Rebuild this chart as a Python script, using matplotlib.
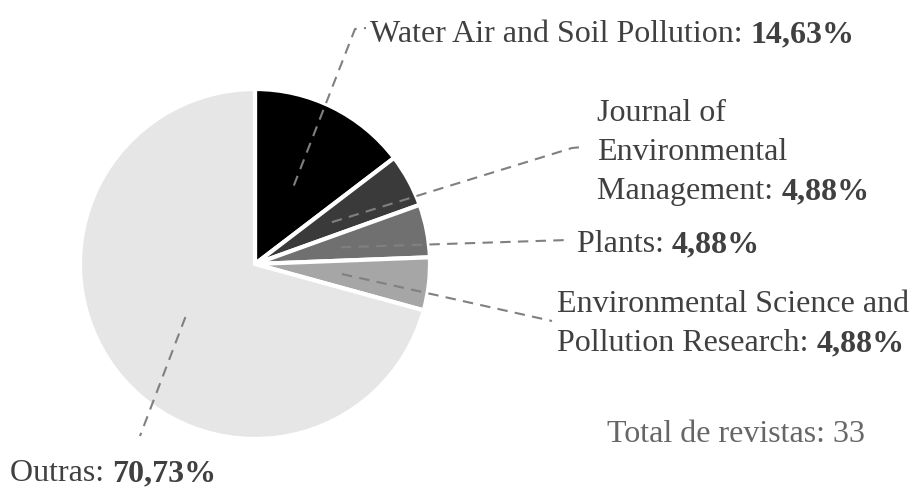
import matplotlib
matplotlib.use('Agg')
import matplotlib.pyplot as plt
import numpy as np

# data
journals = ['Water Air and Soil Pollution', 'Journal of Environmental Management',
            'Plants', 'Environmental Science and Pollution Research', 'Outras']
shares = [14.63, 4.88, 4.88, 4.88, 70.73]
colors = ['#000000', '#3a3a3a', '#707070', '#a6a6a6', '#e6e6e6']
label_lines = [['Water Air and Soil Pollution: '],
               ['Journal of', 'Environmental', 'Management: '],
               ['Plants: '],
               ['Environmental Science and', 'Pollution Research: '],
               ['Outras: ']]
total_text = 'Total de revistas: 33'

W, H = 913, 489
plt.rcParams['font.family'] = ['Liberation Serif', 'DejaVu Serif']
fig = plt.figure(figsize=(W / 100, H / 100), dpi=100)
ax = fig.add_axes([0, 0, 1, 1])

cx, cy, R = 255, H - 265, 175
wedges, _ = ax.pie(shares, colors=colors, startangle=90, counterclock=False,
                   center=(cx, cy), radius=R, frame=True,
                   wedgeprops=dict(edgecolor='white', linewidth=3))
ax.set_xlim(0, W)
ax.set_ylim(0, H)
ax.set_aspect('equal')
ax.axis('off')

txt_color = '#404040'
fs = 23
# (x, first baseline y in pixels from top, leader end points in pixels from top)
layout = [(370, 42, [(355, 30), (366, 29)]),
          (597, 121, [(572, 149), (583, 148)]),
          (577, 252, [(568, 241)]),
          (557, 312, [(552, 322)]),
          (10, 481, [(140, 437)])]
line_gap = 39

fig.canvas.draw()
renderer = fig.canvas.get_renderer()
for w, share, lines, (x, y0, ends) in zip(wedges, shares, label_lines, layout):
    mid = np.deg2rad((w.theta1 + w.theta2) / 2)
    sx, sy = cx + 0.5 * R * np.cos(mid), cy + 0.5 * R * np.sin(mid)
    px = [sx] + [e[0] for e in ends]
    py = [sy] + [H - e[1] for e in ends]
    ax.plot(px, py, color='#808080', lw=1.5, dashes=(5, 3.5), solid_capstyle='butt')
    for i, ln in enumerate(lines):
        yb = H - (y0 + i * line_gap)
        t = ax.text(x, yb, ln, fontsize=fs, color=txt_color, va='baseline', ha='left')
    bb = t.get_window_extent(renderer=renderer)
    ax.text(bb.x1, yb, ('%.2f' % share).replace('.', ',') + '%', fontsize=fs,
            color=txt_color, fontweight='bold', va='baseline', ha='left')

ax.text(607, H - 442, total_text, fontsize=fs, color='#666666', va='baseline')

fig.savefig('out.png', dpi=100)
